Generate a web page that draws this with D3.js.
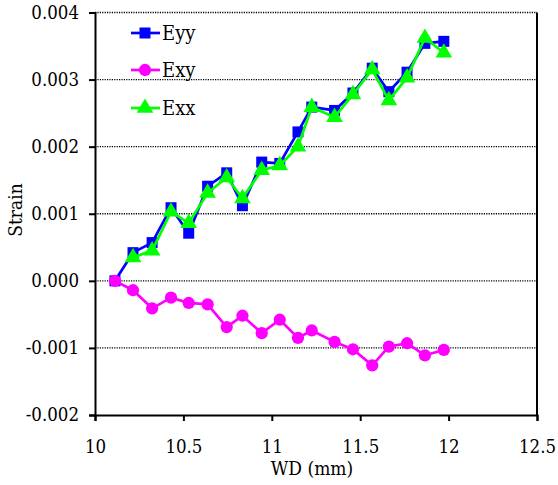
<!DOCTYPE html>
<html>
<head>
<meta charset="utf-8">
<script src="https://cdn.jsdelivr.net/npm/d3@7"></script>
<style>
  html, body { margin: 0; padding: 0; background: #fff; }
  svg { display: block; }
  svg text { font-family: "DejaVu Serif", serif; font-stretch: condensed; }
</style>
</head>
<body>
<script>
// ---- data ----
const wd = [10.113, 10.215, 10.323, 10.430, 10.530, 10.637, 10.745, 10.834, 10.943, 11.045,
            11.148, 11.226, 11.355, 11.459, 11.568, 11.662, 11.765, 11.866, 11.973];
const eyy = [0, 0.00042, 0.00057, 0.00109, 0.00071, 0.00141, 0.00161, 0.00112, 0.00177, 0.00175,
             0.00222, 0.00259, 0.00254, 0.00280, 0.00317, 0.00282, 0.00311, 0.00354, 0.00357];
const exy = [0, -0.00014, -0.00041, -0.00025, -0.00033, -0.00035, -0.00069, -0.00052, -0.00078, -0.00058,
             -0.00085, -0.00074, -0.00091, -0.00102, -0.00126, -0.00098, -0.00093, -0.00111, -0.00103];
// Exx starts at the second WD value
const exx = [null, 0.00035, 0.00045, 0.00103, 0.00086, 0.00131, 0.00154, 0.00123, 0.00165, 0.00172,
             0.00200, 0.00259, 0.00244, 0.00278, 0.00315, 0.00269, 0.00303, 0.00362, 0.00340];
const xTicks = [10, 10.5, 11, 11.5, 12, 12.5];
const xTickLabels = ["10", "10.5", "11", "11.5", "12", "12.5"];
const yTicks = [-0.002, -0.001, 0, 0.001, 0.002, 0.003, 0.004];
const yTickLabels = ["-0.002", "-0.001", "0.000", "0.001", "0.002", "0.003", "0.004"];
const seriesNames = ["Eyy", "Exy", "Exx"];
const seriesColors = ["#0000FF", "#FF00FF", "#00FF00"];
const seriesValues = [eyy, exy, exx];
const seriesSymbols = [d3.symbolSquare, d3.symbolCircle, d3.symbolTriangle];
const symbolSizes = [121, 118, 120];

// ---- layout ----
const W = 558, H = 485;
const FS = 18.5;
const x = d3.scaleLinear().domain([10, 12.5]).range([95, 537]);
const y = d3.scaleLinear().domain([-0.002, 0.004]).range([415, 12.5]);

const svg = d3.select("body").append("svg").attr("width", W).attr("height", H);

// gridlines
svg.append("g").selectAll("line")
  .data(yTicks.filter(v => v > -0.002))
  .join("line")
  .attr("x1", x(10)).attr("x2", x(12.5))
  .attr("y1", d => y(d)).attr("y2", d => y(d))
  .attr("stroke", "#000").attr("stroke-width", 1.3)
  .attr("stroke-dasharray", "1.2,1.2");

// right border
svg.append("line")
  .attr("x1", x(12.5)).attr("x2", x(12.5))
  .attr("y1", y(0.004)).attr("y2", y(-0.002))
  .attr("stroke", "#000").attr("stroke-width", 2);

// axes
const xAxis = svg.append("g").attr("transform", `translate(0,${y(-0.002)})`)
  .call(d3.axisBottom(x).tickValues(xTicks).tickFormat((d, i) => xTickLabels[i]).tickSize(6).tickPadding(10));
const yAxis = svg.append("g").attr("transform", `translate(${x(10)},0)`)
  .call(d3.axisLeft(y).tickValues(yTicks).tickFormat((d, i) => yTickLabels[i]).tickSize(6).tickPadding(10));
[xAxis, yAxis].forEach(g => {
  g.attr("font-family", null).attr("font-size", FS);
  g.select(".domain").attr("stroke", "#000").attr("stroke-width", 2);
  g.selectAll(".tick line").attr("stroke", "#000").attr("stroke-width", 2);
  g.selectAll(".tick text").attr("fill", "#000");
});
xAxis.selectAll(".tick text").attr("y", 37.5).attr("dy", 0);

// axis titles
svg.append("text").attr("x", 312).attr("y", 475).attr("text-anchor", "middle")
  .attr("font-size", 19).text("WD (mm)");
svg.append("text").attr("transform", "translate(22,210) rotate(-90)").attr("text-anchor", "middle")
  .attr("font-size", 19).text("Strain");

// series
const line = d3.line().defined(d => d[1] !== null).x(d => x(d[0])).y(d => y(d[1]));
seriesValues.forEach((vals, si) => {
  const pts = wd.map((w, i) => [w, vals[i]]);
  const g = svg.append("g");
  g.append("path").datum(pts).attr("d", line)
    .attr("fill", "none").attr("stroke", seriesColors[si]).attr("stroke-width", 2.7)
    .attr("stroke-linejoin", "round");
  g.selectAll("path.m").data(pts.filter(d => d[1] !== null)).join("path").attr("class", "m")
    .attr("transform", d => `translate(${x(d[0])},${y(d[1])})`)
    .attr("d", d3.symbol().type(seriesSymbols[si]).size(symbolSizes[si]))
    .attr("fill", seriesColors[si]);
});

// legend
const legY = [33, 70, 108];
seriesNames.forEach((name, i) => {
  const g = svg.append("g").attr("transform", `translate(0,${legY[i]})`);
  g.append("line").attr("x1", 131).attr("x2", 160).attr("y1", 0).attr("y2", 0)
    .attr("stroke", seriesColors[i]).attr("stroke-width", 2.7);
  g.append("path").attr("transform", "translate(145,0)")
    .attr("d", d3.symbol().type(seriesSymbols[i]).size(symbolSizes[i])).attr("fill", seriesColors[i]);
  g.append("text").attr("x", 162).attr("y", 6.5).attr("font-size", 20).text(name);
});
</script>
</body>
</html>
